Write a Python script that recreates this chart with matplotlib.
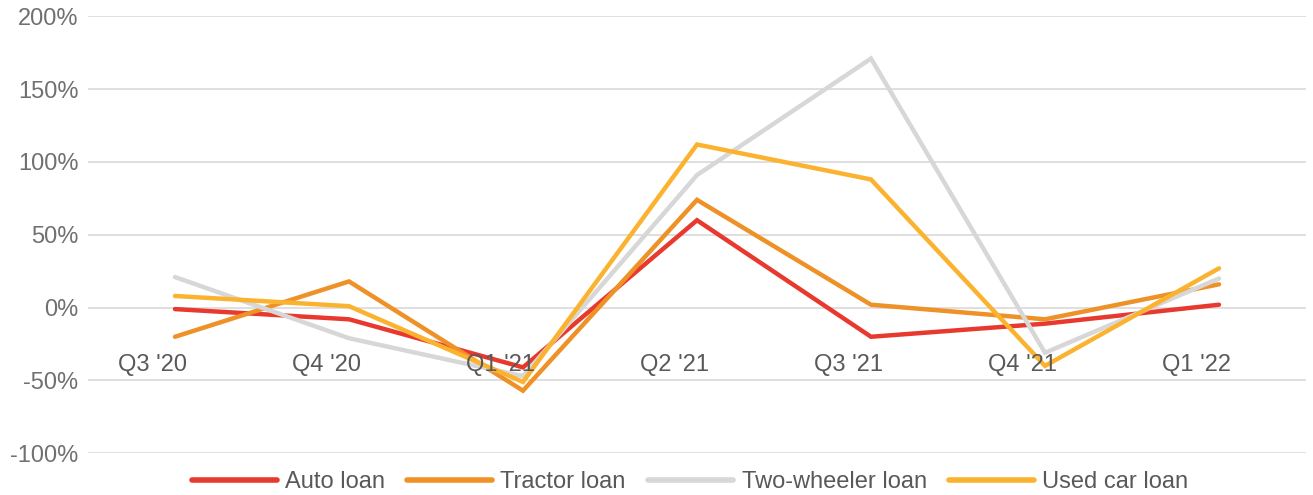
import matplotlib
matplotlib.use("Agg")
import matplotlib.pyplot as plt
from matplotlib.transforms import ScaledTranslation

categories = ["Q3 '20", "Q4 '20", "Q1 '21", "Q2 '21", "Q3 '21", "Q4 '21", "Q1 '22"]
auto_loan = [-1, -8, -41, 60, -20, -11, 2]
tractor_loan = [-20, 18, -57, 74, 2, -8, 16]
two_wheeler_loan = [21, -21, -47, 91, 171, -31, 20]
used_car_loan = [8, 1, -51, 112, 88, -40, 27]
yticks = [-100, -50, 0, 50, 100, 150, 200]

series = [
    ("Auto loan", auto_loan, "#E8392E"),
    ("Tractor loan", tractor_loan, "#EE9127"),
    ("Two-wheeler loan", two_wheeler_loan, "#D7D7D7"),
    ("Used car loan", used_car_loan, "#FBB32F"),
]

plt.rcParams['font.family'] = ['Liberation Sans', 'DejaVu Sans']

fig = plt.figure(figsize=(13.13, 4.95), dpi=100)
ax = fig.add_axes([88/1313, 1-453.3/495, 1218/1313, (453.3-16.3)/495])

x = list(range(len(categories)))
for name, vals, col in series:
    ax.plot(x, vals, color=col, lw=3.2, label=name, solid_capstyle='round',
            solid_joinstyle='miter')

ax.set_xlim(-0.5, len(categories) - 0.5)
ax.set_ylim(-100, 200)
ax.set_yticks(yticks)
ax.set_yticklabels([f"{v}%" for v in yticks])
ax.tick_params(axis='y', length=0, pad=7, labelsize=17, labelcolor='#707070')
ax.set_xticks([])
ax.grid(axis='y', color='#D9D9D9', lw=1.2)
ax.set_axisbelow(True)
for s in ax.spines.values():
    s.set_visible(False)

offset = ScaledTranslation(-23/100, -46/100, fig.dpi_scale_trans)
for i, lab in enumerate(categories):
    ax.text(i, 0, lab, transform=ax.transData + offset, ha='center', va='top',
            fontsize=17, color='#595959')

handles, labels = ax.get_legend_handles_labels()
leg = fig.legend(handles, labels, loc='center', bbox_to_anchor=(690/1313, 1-482/495),
                 ncol=4, frameon=False, fontsize=17, handlelength=3.6,
                 handletextpad=0.35, columnspacing=0.95, labelcolor='#595959')
for lh in leg.get_lines():
    lh.set_linewidth(4)

fig.savefig("out.png", dpi=100)
